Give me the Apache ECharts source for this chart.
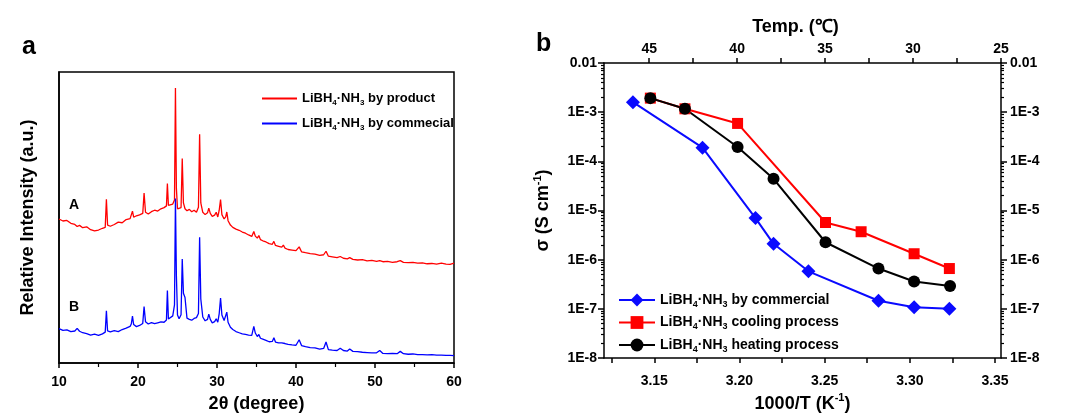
<!DOCTYPE html>
<html><head><meta charset="utf-8">
<script src="https://cdn.jsdelivr.net/npm/echarts@6/dist/echarts.min.js"></script>
<style>html,body{margin:0;padding:0;background:#fff}#c{width:1068px;height:416px}</style>
</head><body><div id="c"></div><script>
// ---------- Panel a: XRD ----------
const twoTheta = [10,10.5,11,11.5,12,12.3,12.6,13,13.5,14,14.5,15,15.5,15.85,16.0,16.15,16.5,17,17.5,18,18.5,19,19.15,19.3,19.45,19.8,20.2,20.6,20.77,20.95,21.3,21.7,22.1,22.5,22.9,23.3,23.6,23.72,23.85,24.1,24.4,24.62,24.74,24.86,25.0,25.2,25.45,25.6,25.75,25.95,26.2,26.5,26.8,27.1,27.4,27.65,27.8,27.95,28.2,28.5,28.8,28.96,29.15,29.4,29.7,29.9,30.1,30.28,30.45,30.62,30.9,31.1,31.24,31.4,31.7,32.0,32.4,32.8,33.2,33.6,34.0,34.4,34.66,34.85,35.1,35.3,35.5,35.8,36.2,36.6,37.0,37.2,37.4,37.8,38.2,38.4,38.6,39.0,39.5,40.0,40.4,40.7,41.2,41.8,42.4,43.0,43.5,43.8,44.1,44.6,45.2,45.6,46.0,46.5,46.8,47.2,47.8,48.4,49.0,49.6,50.2,50.6,51.0,51.6,52.2,52.8,53.2,53.6,54.2,54.8,55.4,56.0,56.6,57.2,57.8,58.4,59.0,59.5,60.0];
const intensityProduct = [49.5,48.8,49.0,48.0,47.6,46.9,47.3,46.5,46.8,45.8,45.4,45.7,46.3,46.6,56.3,47.4,47.0,47.6,48.4,48.2,49.3,49.6,50.2,52.2,50.1,50.6,50.9,51.4,58.4,51.8,51.2,52.0,52.5,52.2,53.0,53.4,54.0,61.7,54.2,54.0,54.6,56.0,94.5,60.0,53.0,52.4,53.4,70.3,55.0,53.0,52.3,52.8,52.0,52.5,51.8,53.5,78.6,55.0,51.8,51.0,51.6,53.2,51.4,50.4,50.8,51.8,50.2,52.5,56.2,51.0,49.5,50.2,51.9,48.9,47.4,46.6,46.0,45.6,45.0,44.6,44.0,43.5,45.2,43.6,42.9,43.8,42.4,42.0,41.6,41.0,40.8,41.8,40.4,40.1,39.8,40.5,39.5,39.0,38.8,38.6,39.9,38.2,37.9,37.6,37.4,37.0,37.2,38.4,36.7,36.5,36.2,36.6,36.0,35.8,36.2,35.6,35.4,35.5,35.1,35.3,34.9,35.2,34.8,34.9,34.6,34.8,35.2,34.6,34.5,34.6,34.3,34.4,34.1,34.2,34.0,34.3,34.0,33.9,34.3];
const intensityCommercial = [11.8,11.2,11.4,10.8,11.0,11.9,10.9,10.4,10.1,9.6,9.9,9.5,10.0,10.6,17.9,11.0,10.7,11.1,10.8,11.5,12.0,12.6,13.4,16.1,13.2,12.5,12.9,13.6,19.4,14.2,13.4,13.9,13.5,13.8,14.1,14.0,14.8,24.9,15.1,15.4,16.2,20.0,56.5,30.0,16.5,15.2,16.6,35.7,24.0,22.5,15.4,15.0,14.7,15.3,15.6,17.0,43.2,22.0,15.8,14.5,15.0,16.8,15.0,13.8,14.2,15.2,14.0,17.0,22.3,16.5,14.6,15.2,17.5,14.0,12.3,11.5,10.8,10.4,10.0,9.8,9.6,9.5,12.6,10.3,9.1,9.8,8.5,8.2,7.8,7.3,7.4,8.7,7.2,6.9,6.9,7.5,6.7,6.4,6.2,6.1,8.0,6.0,5.6,5.3,5.2,4.8,5.0,7.2,4.6,4.4,4.3,5.1,4.3,4.1,4.8,4.0,3.9,3.7,3.6,3.5,3.5,4.3,3.3,3.2,3.3,3.2,4.0,3.2,3.0,3.1,2.9,2.9,2.8,2.9,2.7,2.7,2.6,2.6,2.5];
const xLabelsA = [10,20,30,40,50,60];

// ---------- Panel b: conductivity ----------
const invT_commercial = [3.1375,3.1783,3.2094,3.2200,3.2405,3.2816,3.3025,3.3232];
const sigma_commercial = [1.6e-3,1.9e-4,7.0e-6,2.1e-6,5.8e-7,1.46e-7,1.08e-7,1.0e-7];
const invT_cooling = [3.1477,3.1680,3.1989,3.2505,3.2714,3.3025,3.3232];
const sigma_cooling = [1.93e-3,1.17e-3,5.9e-4,5.7e-6,3.7e-6,1.32e-6,6.6e-7];
const invT_heating = [3.1477,3.1680,3.1989,3.2200,3.2505,3.2816,3.3025,3.3236];
const sigma_heating = [1.93e-3,1.17e-3,1.96e-4,4.4e-5,2.26e-6,6.6e-7,3.6e-7,2.9e-7];
const invTLabels = [3.15,3.20,3.25,3.30,3.35];
const invTTicks = [3.125,3.15,3.175,3.20,3.225,3.25,3.275,3.30,3.325,3.35];
const tempLabels = [45,40,35,30,25];
const tempTicks = [45,42.5,40,37.5,35,32.5,30,27.5,25];
const sigmaLabels = [1e-2,1e-3,1e-4,1e-5,1e-6,1e-7,1e-8];
const sigmaLabelText = ['0.01','1E-3','1E-4','1E-5','1E-6','1E-7','1E-8'];

const names = {
  product: 'LiBH4·NH3 by product',
  commecial: 'LiBH4·NH3 by commecial',
  commercial: 'LiBH4·NH3 by commercial',
  cooling: 'LiBH4·NH3 cooling process',
  heating: 'LiBH4·NH3 heating process'
};

const FONT = '"Liberation Sans", Arial, Helvetica, sans-serif';
const BLK = '#000';
const lab = {fontFamily: FONT, fontWeight: 'bold', fontSize: 14, color: BLK};
const axLine = {show: true, onZero: false, lineStyle: {color: BLK, width: 1.5}};
const zip = (a, b) => a.map((v, i) => [v, b[i]]);

const minorSigma = [];
for (let e = -8; e < -2; e++) for (let k = 2; k <= 9; k++) minorSigma.push(k * Math.pow(10, e));
const sigmaFmt = v => {
  const e = Math.round(Math.log10(v));
  const i = sigmaLabels.findIndex(s => Math.round(Math.log10(s)) === e);
  return i >= 0 ? sigmaLabelText[i] : '';
};
const legendFmt = name => name.replace('LiBH4·NH3', '{n|LiBH}{s|4}{n|·NH}{s|3}{n|') + '}';
const legendRich = (fs) => ({
  n: {fontFamily: FONT, fontWeight: 'bold', fontSize: fs, color: BLK, lineHeight: fs + 4},
  s: {fontFamily: FONT, fontWeight: 'bold', fontSize: Math.round(fs * 0.62), color: BLK, verticalAlign: 'bottom'}
});
const titleRich = {
  t: {fontFamily: FONT, fontWeight: 'bold', fontSize: 18, color: BLK, lineHeight: 22},
  sup: {fontFamily: FONT, fontWeight: 'bold', fontSize: 11, color: BLK, verticalAlign: 'top'}
};

const logAxisBase = {gridIndex: 1, type: 'log', logBase: 10, min: 1e-8, max: 1e-2, splitLine: {show: false}};

const option = {
  animation: false,
  backgroundColor: '#fff',
  grid: [
    {left: 59, right: 614, top: 72, bottom: 53, show: true, borderColor: BLK, borderWidth: 1.5,
     containLabel: false, outerBoundsMode: 'none'},
    {left: 604, right: 67, top: 63, bottom: 58, containLabel: false, outerBoundsMode: 'none'}
  ],
  xAxis: [
    {gridIndex: 0, type: 'value', min: 10, max: 60, interval: 10, position: 'bottom',
     axisLine: axLine, axisTick: {show: true, length: 5, lineStyle: {color: BLK, width: 1.5}},
     minorTick: {show: true, splitNumber: 2, length: 4, lineStyle: {color: BLK, width: 1.2}},
     axisLabel: Object.assign({margin: 12, customValues: xLabelsA}, lab), splitLine: {show: false},
     name: '2θ (degree)', nameLocation: 'middle', nameGap: 32,
     nameTextStyle: {fontFamily: FONT, fontWeight: 'bold', fontSize: 18, color: BLK}},
    {gridIndex: 1, type: 'value', min: 3.1205, max: 3.3535, position: 'bottom',
     axisLine: axLine, axisTick: {show: true, length: 5, customValues: invTTicks, lineStyle: {color: BLK, width: 1.5}},
     axisLabel: Object.assign({margin: 16, customValues: invTLabels, formatter: v => v.toFixed(2)}, lab),
     splitLine: {show: false},
     name: '{t|1000/T (K}{sup|-1}{t|)}', nameLocation: 'middle', nameGap: 34,
     nameTextStyle: {rich: titleRich}},
    {gridIndex: 1, type: 'value', min: 25, max: 47.57, inverse: true, position: 'top',
     axisLine: axLine, axisTick: {show: true, length: 5, customValues: tempTicks, lineStyle: {color: BLK, width: 1.5}},
     axisLabel: Object.assign({margin: 7, customValues: tempLabels}, lab),
     splitLine: {show: false},
     name: 'Temp. (℃)', nameLocation: 'middle', nameGap: 27,
     nameTextStyle: {fontFamily: FONT, fontWeight: 'bold', fontSize: 18, color: BLK, padding: [0, 14, 0, 0]}}
  ],
  yAxis: [
    {gridIndex: 0, type: 'value', min: 0, max: 100, axisLine: axLine, axisTick: {show: false},
     axisLabel: {show: false}, splitLine: {show: false},
     name: 'Relative Intensity (a.u.)', nameLocation: 'middle', nameGap: 22, nameRotate: 90,
     nameTextStyle: {fontFamily: FONT, fontWeight: 'bold', fontSize: 18, color: BLK}},
    Object.assign({}, logAxisBase, {position: 'left', axisLine: axLine,
     axisTick: {show: true, length: 6, customValues: sigmaLabels, lineStyle: {color: BLK, width: 1.5}},
     axisLabel: Object.assign({margin: 7, customValues: sigmaLabels, formatter: sigmaFmt}, lab),
     name: '{t|σ (S cm}{sup|-1}{t|)}', nameLocation: 'middle', nameGap: 50, nameRotate: 90,
     nameTextStyle: {rich: titleRich}}),
    Object.assign({}, logAxisBase, {position: 'left', axisLine: {show: false},
     axisTick: {show: true, length: 3, customValues: minorSigma, lineStyle: {color: BLK, width: 1.2}},
     axisLabel: {show: false}}),
    Object.assign({}, logAxisBase, {position: 'right', axisLine: axLine,
     axisTick: {show: true, length: 6, customValues: sigmaLabels, lineStyle: {color: BLK, width: 1.5}},
     axisLabel: Object.assign({margin: 9, customValues: sigmaLabels, formatter: sigmaFmt}, lab)}),
    Object.assign({}, logAxisBase, {position: 'right', axisLine: {show: false},
     axisTick: {show: true, length: 3, customValues: minorSigma, lineStyle: {color: BLK, width: 1.2}},
     axisLabel: {show: false}})
  ],
  legend: [
    {data: [names.product, names.commecial], left: 262, top: 92, orient: 'vertical', padding: 0,
     icon: 'rect', itemWidth: 35, itemHeight: 2, itemGap: 10,
     formatter: legendFmt, textStyle: {rich: legendRich(13)}},
    {data: [names.commercial, names.cooling, names.heating], left: 618, top: 293, orient: 'vertical', padding: 0,
     itemWidth: 36, itemHeight: 16, itemGap: 6.5,
     formatter: legendFmt, textStyle: {rich: legendRich(14)}}
  ],
  graphic: [
    {type: 'text', x: 22, y: 47, style: {text: 'a', font: 'bold 25px ' + FONT, fill: BLK, verticalAlign: 'middle'}},
    {type: 'text', x: 536, y: 44, style: {text: 'b', font: 'bold 25px ' + FONT, fill: BLK, verticalAlign: 'middle'}},
    {type: 'text', x: 69, y: 205, style: {text: 'A', font: 'bold 14px ' + FONT, fill: BLK, verticalAlign: 'middle'}},
    {type: 'text', x: 69, y: 307, style: {text: 'B', font: 'bold 14px ' + FONT, fill: BLK, verticalAlign: 'middle'}}
  ],
  series: [
    {name: names.product, type: 'line', xAxisIndex: 0, yAxisIndex: 0, symbol: 'none',
     data: zip(twoTheta, intensityProduct), lineStyle: {color: '#ff0000', width: 1.3}, itemStyle: {color: '#ff0000'}},
    {name: names.commecial, type: 'line', xAxisIndex: 0, yAxisIndex: 0, symbol: 'none',
     data: zip(twoTheta, intensityCommercial), lineStyle: {color: '#0000ff', width: 1.3}, itemStyle: {color: '#0000ff'}},
    {name: names.commercial, type: 'line', xAxisIndex: 1, yAxisIndex: 1, symbol: 'diamond', symbolSize: 14,
     data: zip(invT_commercial, sigma_commercial), lineStyle: {color: '#0a0aff', width: 2}, itemStyle: {color: '#0a0aff'}},
    {name: names.cooling, type: 'line', xAxisIndex: 1, yAxisIndex: 1, symbol: 'rect', symbolSize: 11,
     data: zip(invT_cooling, sigma_cooling), lineStyle: {color: '#ff0000', width: 2}, itemStyle: {color: '#ff0000'}},
    {name: names.heating, type: 'line', xAxisIndex: 1, yAxisIndex: 1, symbol: 'circle', symbolSize: 12,
     data: zip(invT_heating, sigma_heating), lineStyle: {color: '#000', width: 2}, itemStyle: {color: '#000'}}
  ]
};
const chart = echarts.init(document.getElementById('c'), null, {renderer: 'canvas'});
chart.setOption(option);
</script></body></html>
